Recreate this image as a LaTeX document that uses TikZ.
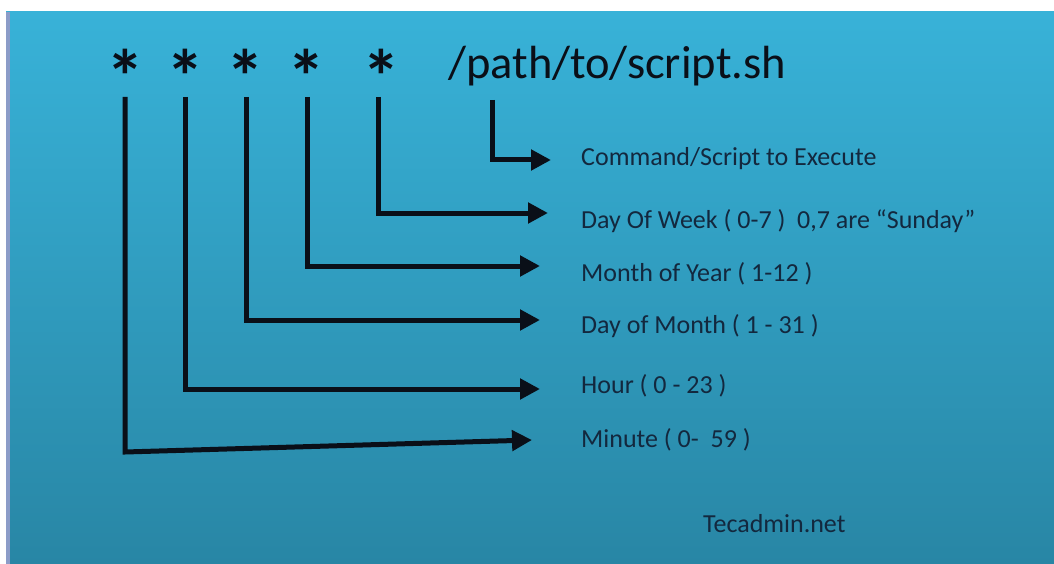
\documentclass[tikz,border=0pt]{standalone}
\usepackage{fontspec}
\setmainfont{Carlito}
\usetikzlibrary{arrows.meta}
\definecolor{bgtop}{HTML}{38B2D8}
\definecolor{bgbot}{HTML}{2886A5}
\definecolor{ink}{HTML}{0A0F18}
\definecolor{txt}{HTML}{13283E}
\definecolor{edge}{HTML}{8C9CC8}
\tikzset{
  conn/.style={draw=ink, line width=5pt, line join=miter,
    -{Triangle[length=20pt,width=20pt]}},
  star/.style={font=\fontsize{76}{76}\selectfont\bfseries, text=ink, inner sep=0pt, anchor=base},
  head/.style={font=\fontsize{46.5}{46.5}\selectfont, text=ink, inner sep=0pt, anchor=base west},
  lbl/.style={font=\fontsize{26}{26}\selectfont, text=txt, anchor=west, inner sep=0pt},
}
\begin{document}
\begin{tikzpicture}[x=1pt,y=-1pt]
\useasboundingbox (0,0) rectangle (1054,564);
\fill[white] (0,0) rectangle (1054,564);
\shade[top color=bgtop, bottom color=bgbot] (6,12) rectangle (1054,564);
\fill[edge] (6,12) rectangle (10,564);
% header
\node[star] (s1) at (125,104) {*};
\node[star] (s2) at (185,104) {*};
\node[star] (s3) at (245,104) {*};
\node[star] (s4) at (306,104) {*};
\node[star] (s5) at (381,104) {*};
\node[head] (p) at (448,79) {/path/to/script.sh};
% labels
\node[lbl] (l0) at (581,159) {Command/Script to Execute};
\node[lbl] (l1) at (581,221) {Day Of Week ( 0-7 ) \ 0,7 are “Sunday”};
\node[lbl] (l2) at (581,274) {Month of Year ( 1-12 )};
\node[lbl] (l3) at (581,326) {Day of Month ( 1 - 31 )};
\node[lbl] (l4) at (581,386) {Hour ( 0 - 23 )};
\node[lbl] (l5) at (581,440) {Minute ( 0- \ 59 )};
\node[lbl] (tm) at (703,524) {Tecadmin.net};
% connectors
\coordinate (t1) at (125,97);
\coordinate (t2) at (185,97);
\coordinate (t3) at (246,97);
\coordinate (t4) at (307,97);
\coordinate (t5) at (378,97);
\coordinate (t6) at (492,100);
\coordinate (c1) at (125,452);
\coordinate (e0) at (551,160);
\coordinate (e1) at (548,213);
\coordinate (e2) at (540,266);
\coordinate (e3) at (540,320);
\coordinate (e4) at (540,389);
\coordinate (e5) at (532,440);
\draw[conn] (t6) |- (e0);
\draw[conn] (t5) |- (e1);
\draw[conn] (t4) |- (e2);
\draw[conn] (t3) |- (e3);
\draw[conn] (t2) |- (e4);
\draw[conn] (t1) -- (c1) -- (e5);
\end{tikzpicture}
\end{document}
